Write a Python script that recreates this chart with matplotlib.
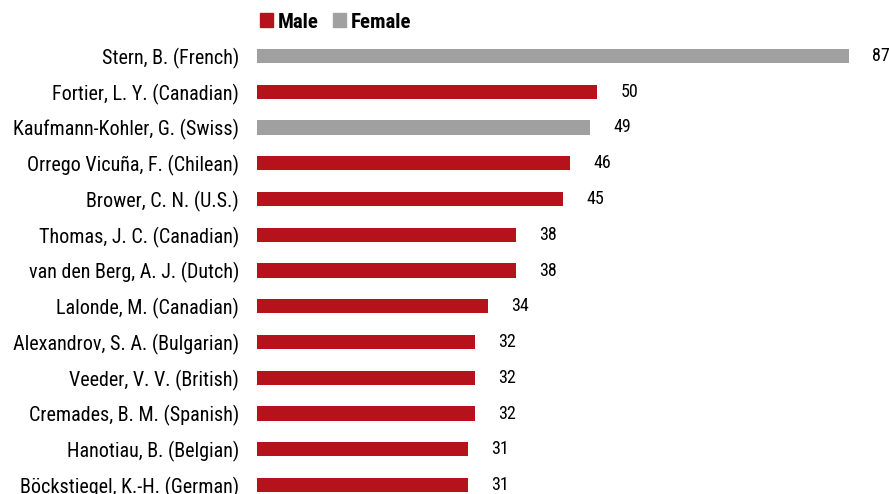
import matplotlib.pyplot as plt
from matplotlib.patches import Patch

names = ["Stern, B. (French)", "Fortier, L. Y. (Canadian)", "Kaufmann-Kohler, G. (Swiss)",
         "Orrego Vicuña, F. (Chilean)", "Brower, C. N. (U.S.)", "Thomas, J. C. (Canadian)",
         "van den Berg, A. J. (Dutch)", "Lalonde, M. (Canadian)", "Alexandrov, S. A. (Bulgarian)",
         "Veeder, V. V. (British)", "Cremades, B. M. (Spanish)", "Hanotiau, B. (Belgian)",
         "Böckstiegel, K.-H. (German)"]
values = [87, 50, 49, 46, 45, 38, 38, 34, 32, 32, 32, 31, 31]
gender = ["F", "M", "F", "M", "M", "M", "M", "M", "M", "M", "M", "M", "M"]

red = "#B5121B"
grey = "#A0A0A0"
plt.rcParams['font.family'] = ['Roboto Condensed', 'DejaVu Sans']

W, H = 889, 494
fig = plt.figure(figsize=(W / 100, H / 100), dpi=100)
# axis box in pixels: x 0..87 -> 257..849, rows 56..485
row = (485 - 56) / 12
top = 56 - row / 2
bot = 485 + row / 2
ax = fig.add_axes([257 / W, (H - bot) / H, 592 / W, (bot - top) / H])

ypos = list(range(len(names)))
colors = [grey if g == "F" else red for g in gender]
ax.barh(ypos, values, height=0.4, color=colors)
ax.set_xlim(0, 87)
ax.set_ylim(len(names) - 0.5, -0.5)

for y, v in zip(ypos, values):
    ax.text(v + 3.4, y, str(v), va="center", ha="left", fontsize=13, clip_on=False)

ax.set_yticks(ypos)
ax.set_yticklabels(names, fontsize=14.5)
ax.tick_params(axis="y", length=0, pad=13)
ax.set_xticks([])
for s in ax.spines.values():
    s.set_visible(False)

handles = [Patch(color=red, label="Male"), Patch(color=grey, label="Female")]
fig.legend(handles=handles, loc="center left", bbox_to_anchor=(260 / W, 1 - 22 / H), ncol=2,
           frameon=False, prop={"weight": "bold", "size": 15}, handlelength=0.6, handleheight=0.7,
           handletextpad=0.25, columnspacing=0.7, borderaxespad=0, borderpad=0)

fig.savefig("out.png", dpi=100)
